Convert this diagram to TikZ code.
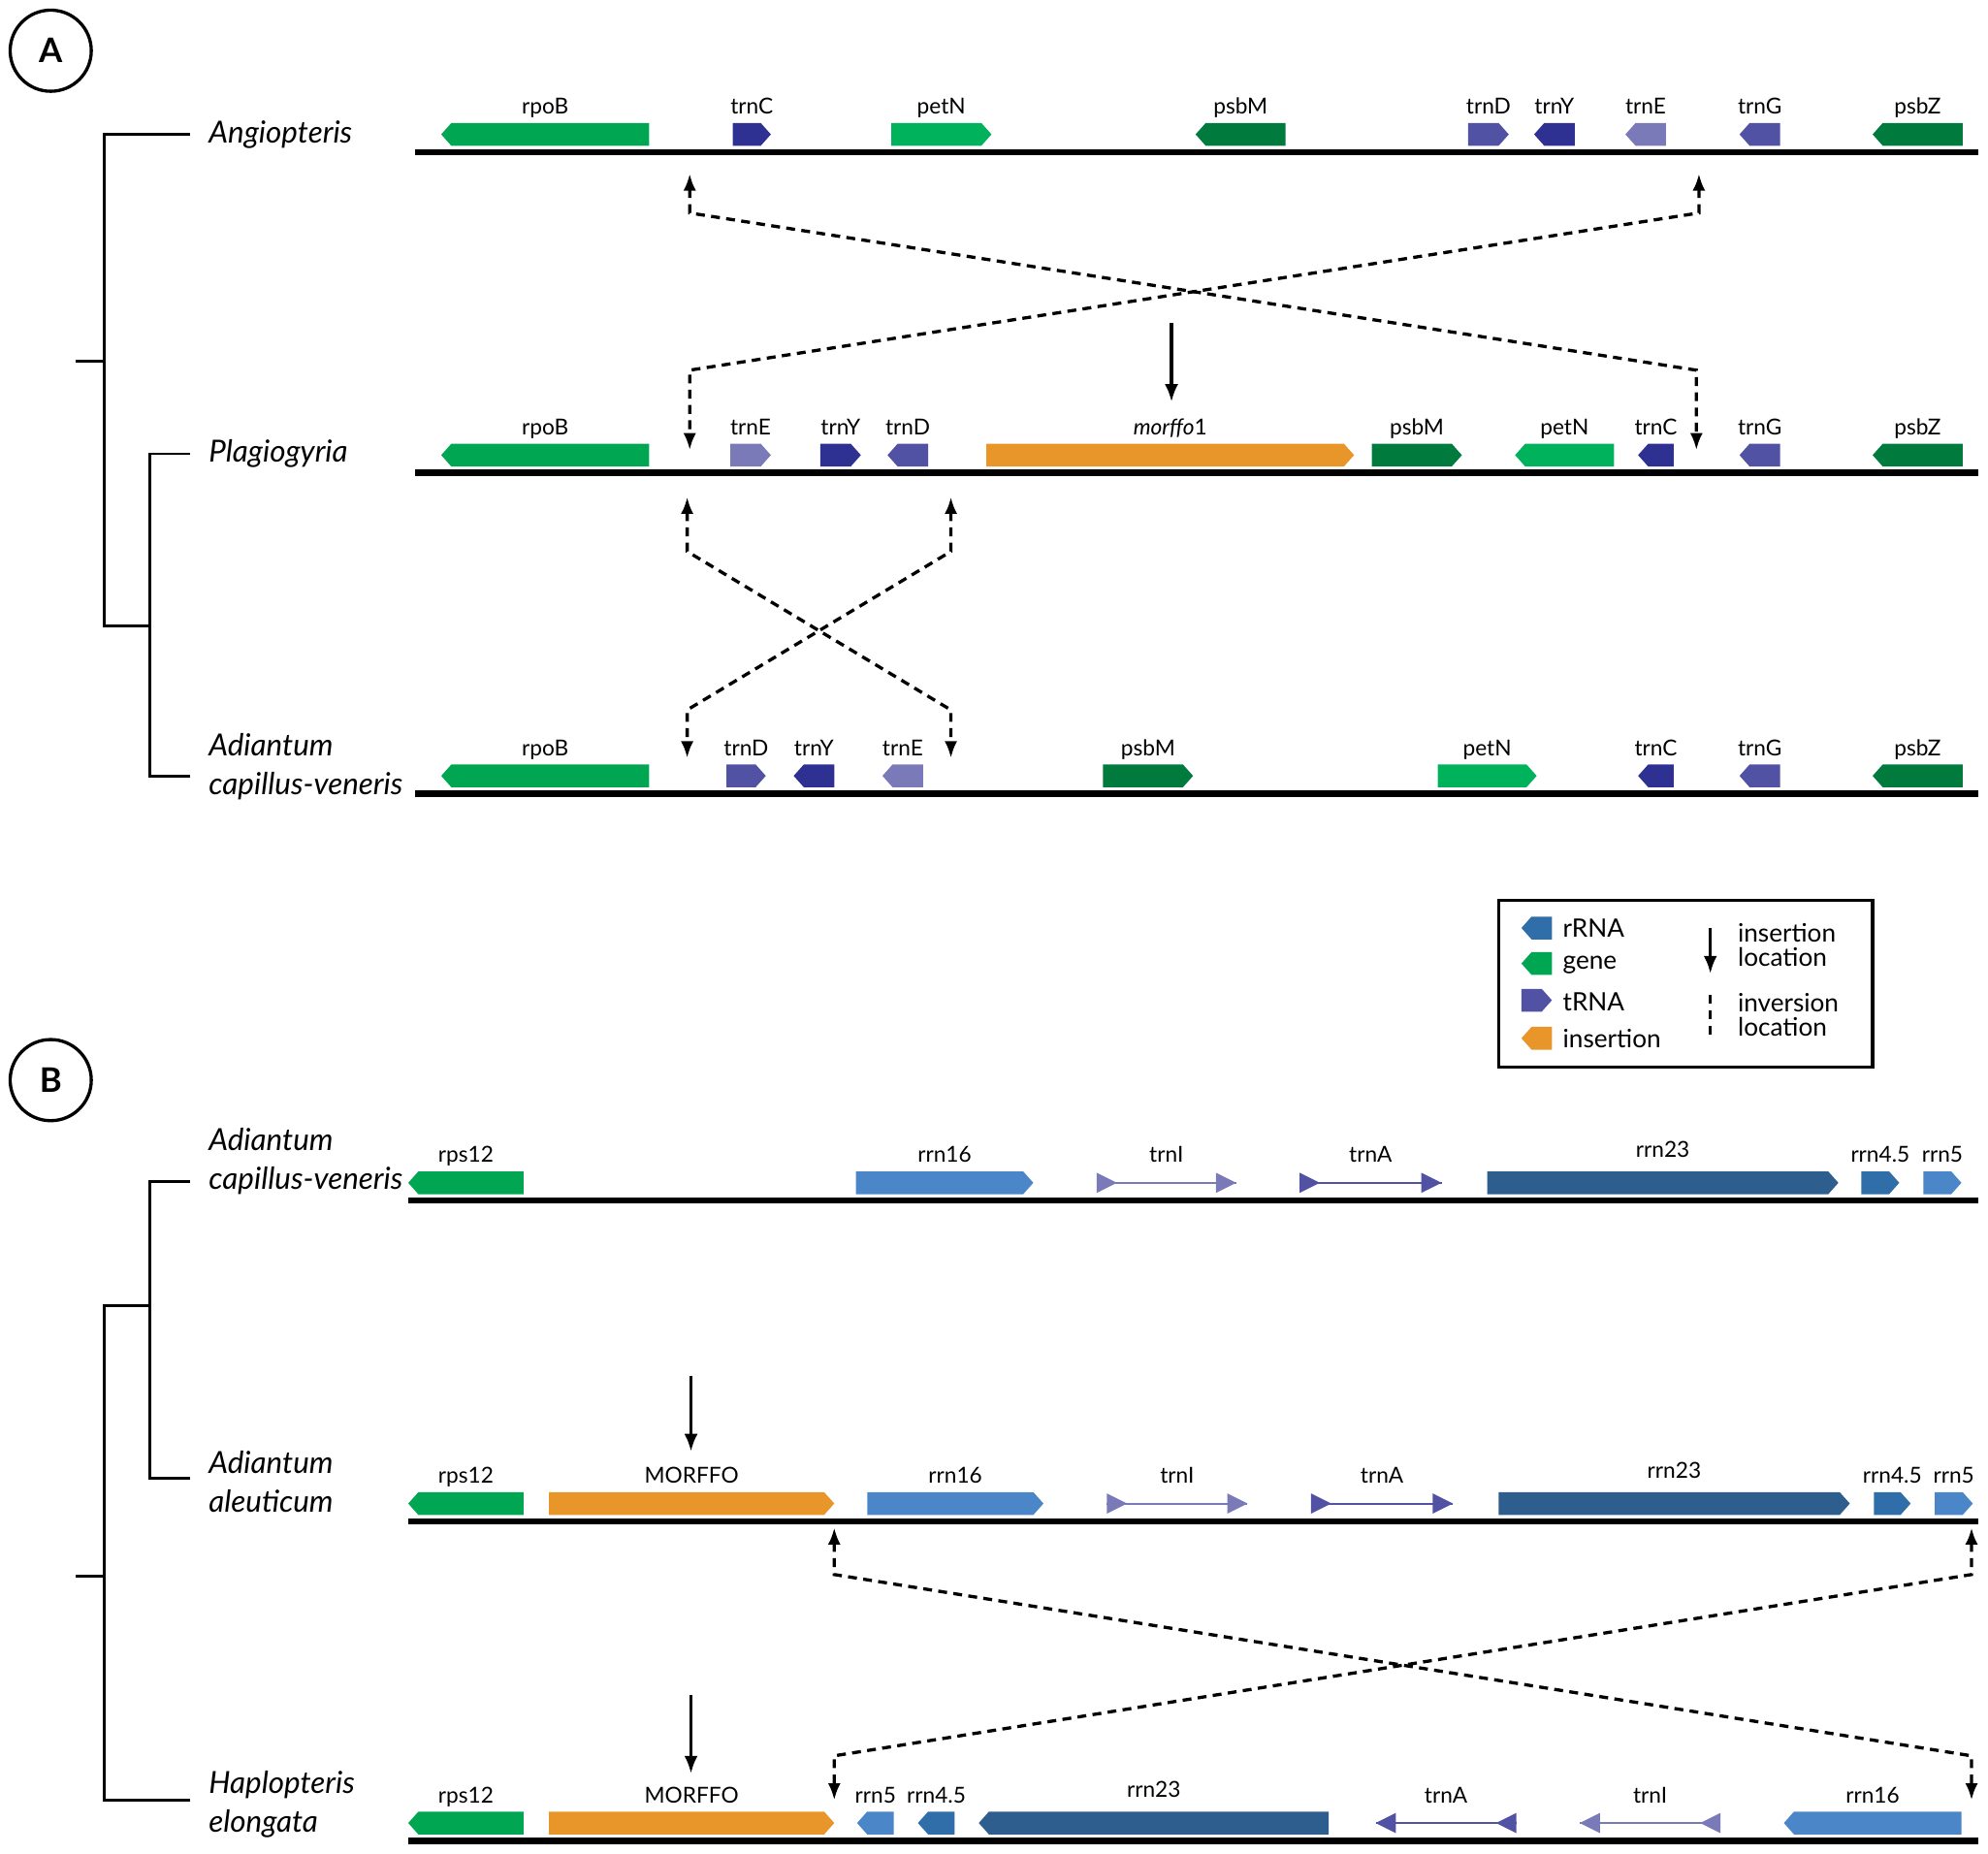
\documentclass[tikz,border=0pt]{standalone}
\usepackage{fontspec}
\setmainfont{Lato}
\usetikzlibrary{arrows.meta}
\newlength{\du}
\setlength{\du}{0.75pt}

\definecolor{cgene}{RGB}{0,166,81}
\definecolor{cgeneL}{RGB}{0,178,92}
\definecolor{cgeneD}{RGB}{0,122,61}
\definecolor{ctrna}{RGB}{82,82,164}
\definecolor{ctrnaD}{RGB}{46,49,146}
\definecolor{ctrnaL}{RGB}{122,122,184}
\definecolor{cins}{RGB}{232,150,42}
\definecolor{crrna}{RGB}{74,134,200}
\definecolor{crrnaD}{RGB}{46,94,142}
\definecolor{crrnaM}{RGB}{48,110,170}

\tikzset{
  chrom/.style={line width=3.75pt},
  lbl/.style={font=\fontsize{13}{13}\selectfont,anchor=base},
  species/.style={font=\fontsize{18}{23}\selectfont\itshape,anchor=west,align=left},
  tree/.style={line width=1.65pt},
  inv/.style={line width=1.9pt,dash pattern=on 5.25pt off 3.75pt,{Latex[length=10pt,width=7.5pt]}-{Latex[length=10pt,width=7.5pt]}},
  ins/.style={line width=1.9pt,-{Latex[length=10.5pt,width=8pt]}},
  legtxt/.style={font=\fontsize{15}{14}\selectfont,anchor=west},
}

% gene box: x1, x2, line y, colour, direction (r/l), label
\newcommand{\genebox}[6]{%
  \ifx r#5
    \fill[#4] (#1,{#3-23})--({#2-8},{#3-23})--(#2,{#3-14})--({#2-8},{#3-5})--(#1,{#3-5})--cycle;
  \else
    \fill[#4] (#2,{#3-23})--({#1+8},{#3-23})--(#1,{#3-14})--({#1+8},{#3-5})--(#2,{#3-5})--cycle;
  \fi
  \node[lbl] at ({(#1+#2)/2},{#3-30}) {#6};}
% thin tRNA arrow: x1, x2, line y, colour, direction, label
\newcommand{\trnarrow}[6]{%
  \ifx r#5
    \draw[#4,line width=1.1pt] (#1,{#3-14})--(#2,{#3-14});
    \fill[#4] (#1,{#3-22})--({#1+16},{#3-14})--(#1,{#3-6})--cycle;
    \fill[#4] ({#2-16},{#3-22})--(#2,{#3-14})--({#2-16},{#3-6})--cycle;
  \else
    \draw[#4,line width=1.1pt] (#1,{#3-14})--(#2,{#3-14});
    \fill[#4] ({#1+16},{#3-22})--(#1,{#3-14})--({#1+16},{#3-6})--cycle;
    \fill[#4] (#2,{#3-22})--({#2-16},{#3-14})--(#2,{#3-6})--cycle;
  \fi
  \node[lbl] at ({(#1+#2)/2},{#3-30}) {#6};}

\begin{document}
\begin{tikzpicture}[x=\du,y=-\du]
\useasboundingbox (0,0) rectangle (1568,1462);

% panel labels
\node[draw,circle,line width=1.9pt,minimum size=48pt,font=\fontsize{20}{20}\selectfont\bfseries] (pa) at (40,40) {A};
\node[draw,circle,line width=1.9pt,minimum size=48pt,font=\fontsize{20}{20}\selectfont\bfseries] (pb) at (40,852) {B};

% ---- panel A tree
\draw[tree] (60,285)--(82,285);
\draw[tree] (150,106)--(82,106)--(82,494)--(118,494);
\draw[tree] (150,358)--(118,358)--(118,612)--(150,612);
\node[species] (angio) at (160,106) {Angiopteris};
\node[species] (plagio) at (160,358) {Plagiogyria};
\node[species] (adiA) at (160,605) {Adiantum\\capillus-veneris};

% Angiopteris
\draw[chrom] (327,120)--(1560,120);
\genebox{348}{512}{120}{cgene}{l}{rpoB}
\genebox{578}{608}{120}{ctrnaD}{r}{trnC}
\genebox{703}{782}{120}{cgeneL}{r}{petN}
\genebox{943}{1014}{120}{cgeneD}{l}{psbM}
\genebox{1158}{1190}{120}{ctrna}{r}{trnD}
\genebox{1210}{1242}{120}{ctrnaD}{l}{trnY}
\genebox{1282}{1314}{120}{ctrnaL}{l}{trnE}
\genebox{1372}{1404}{120}{ctrna}{l}{trnG}
\genebox{1477}{1548}{120}{cgeneD}{l}{psbZ}

% Plagiogyria
\draw[chrom] (327,373)--(1560,373);
\genebox{348}{512}{373}{cgene}{l}{rpoB}
\genebox{576}{608}{373}{ctrnaL}{r}{trnE}
\genebox{647}{679}{373}{ctrnaD}{r}{trnY}
\genebox{700}{732}{373}{ctrna}{l}{trnD}
\genebox{778}{1068}{373}{cins}{r}{\textit{morffo}1}
\genebox{1082}{1153}{373}{cgeneD}{r}{psbM}
\genebox{1195}{1273}{373}{cgeneL}{l}{petN}
\genebox{1292}{1320}{373}{ctrnaD}{l}{trnC}
\genebox{1372}{1404}{373}{ctrna}{l}{trnG}
\genebox{1477}{1548}{373}{cgeneD}{l}{psbZ}

% Adiantum capillus-veneris
\draw[chrom] (327,626)--(1560,626);
\genebox{348}{512}{626}{cgene}{l}{rpoB}
\genebox{573}{604}{626}{ctrna}{r}{trnD}
\genebox{626}{658}{626}{ctrnaD}{l}{trnY}
\genebox{696}{728}{626}{ctrnaL}{l}{trnE}
\genebox{870}{941}{626}{cgeneD}{r}{psbM}
\genebox{1134}{1212}{626}{cgeneL}{r}{petN}
\genebox{1292}{1320}{626}{ctrnaD}{l}{trnC}
\genebox{1372}{1404}{626}{ctrna}{l}{trnG}
\genebox{1477}{1548}{626}{cgeneD}{l}{psbZ}

% inversions A
\coordinate (a1t) at (544,137); \coordinate (a1b) at (544,168);
\coordinate (a2t) at (1340,137); \coordinate (a2b) at (1340,168);
\coordinate (p1t) at (544,292); \coordinate (p1b) at (544,355);
\coordinate (p2t) at (1338,292); \coordinate (p2b) at (1338,355);
\draw[inv] (a1t)--(a1b)--(p2t)--(p2b);
\draw[inv] (a2t)--(a2b)--(p1t)--(p1b);
\coordinate (q1t) at (542,392); \coordinate (q1b) at (542,435);
\coordinate (q2t) at (750,392); \coordinate (q2b) at (750,435);
\coordinate (r1t) at (542,560); \coordinate (r1b) at (542,598);
\coordinate (r2t) at (750,560); \coordinate (r2b) at (750,598);
\draw[inv] (q1t)--(q1b)--(r2t)--(r2b);
\draw[inv] (q2t)--(q2b)--(r1t)--(r1b);
\coordinate (insA1) at (924,255); \coordinate (insA2) at (924,317);
\draw[ins] (insA1)--(insA2);

% legend
\draw[line width=1.9pt] (1182,710) rectangle (1477,842);
\genebox{1200}{1224}{746}{crrnaM}{l}{}
\genebox{1200}{1224}{774}{cgene}{l}{}
\genebox{1200}{1224}{803}{ctrna}{r}{}
\genebox{1200}{1224}{833}{cins}{l}{}
\node[legtxt] (lr) at (1228,732) {rRNA};
\node[legtxt] (lg) at (1228,761) {gene};
\node[legtxt] (lt) at (1228,790) {tRNA};
\node[legtxt] (li) at (1228,819) {insertion};
\coordinate (lins1) at (1349,732); \coordinate (lins2) at (1349,768);
\draw[ins] (lins1)--(lins2);
\coordinate (linv1) at (1349,785); \coordinate (linv2) at (1349,818);
\draw[line width=1.9pt,dash pattern=on 5.25pt off 3.75pt] (linv1)--(linv2);
\node[legtxt] (lil1) at (1366,736) {insertion};
\node[legtxt] (lil2) at (1366,755) {location};
\node[legtxt] (lvl1) at (1366,791) {inversion};
\node[legtxt] (lvl2) at (1366,810) {location};

% ---- panel B tree
\draw[tree] (150,932)--(118,932)--(118,1166)--(150,1166);
\draw[tree] (118,1030)--(82,1030)--(82,1420)--(150,1420);
\draw[tree] (60,1243)--(82,1243);
\node[species] (adiB) at (160,916) {Adiantum\\capillus-veneris};
\node[species] (aleu) at (160,1169) {Adiantum\\aleuticum};
\node[species] (haplo) at (160,1423) {Haplopteris\\elongata};

% Adiantum capillus-veneris
\draw[chrom] (322,947)--(1560,947);
\genebox{322}{413}{947}{cgene}{l}{rps12}
\genebox{675}{815}{947}{crrna}{r}{rrn16}
\trnarrow{865}{975}{947}{ctrnaL}{r}{trnI}
\trnarrow{1025}{1137}{947}{ctrna}{r}{trnA}
\genebox{1173}{1450}{947}{crrnaD}{r}{\raisebox{3pt}{rrn23}}
\genebox{1468}{1498}{947}{crrnaM}{r}{rrn4.5}
\genebox{1517}{1547}{947}{crrna}{r}{rrn5}

% Adiantum aleuticum
\draw[chrom] (322,1200)--(1560,1200);
\genebox{322}{413}{1200}{cgene}{l}{rps12}
\genebox{433}{658}{1200}{cins}{r}{MORFFO}
\genebox{684}{823}{1200}{crrna}{r}{rrn16}
\trnarrow{873}{984}{1200}{ctrnaL}{r}{trnI}
\trnarrow{1034}{1146}{1200}{ctrna}{r}{trnA}
\genebox{1182}{1459}{1200}{crrnaD}{r}{\raisebox{3pt}{rrn23}}
\genebox{1478}{1507}{1200}{crrnaM}{r}{rrn4.5}
\genebox{1526}{1556}{1200}{crrna}{r}{rrn5}
\coordinate (insB1) at (545,1085); \coordinate (insB2) at (545,1145);
\draw[ins] (insB1)--(insB2);

% Haplopteris elongata
\draw[chrom] (322,1452)--(1560,1452);
\genebox{322}{413}{1452}{cgene}{l}{rps12}
\genebox{433}{658}{1452}{cins}{r}{MORFFO}
\genebox{676}{705}{1452}{crrna}{l}{rrn5}
\genebox{724}{753}{1452}{crrnaM}{l}{rrn4.5}
\genebox{772}{1048}{1452}{crrnaD}{l}{\raisebox{3pt}{rrn23}}
\trnarrow{1085}{1196}{1452}{ctrna}{l}{trnA}
\trnarrow{1246}{1357}{1452}{ctrnaL}{l}{trnI}
\genebox{1407}{1547}{1452}{crrna}{l}{rrn16}
\coordinate (insC1) at (545,1337); \coordinate (insC2) at (545,1399);
\draw[ins] (insC1)--(insC2);

% inversions B
\coordinate (b1t) at (658,1205); \coordinate (b1b) at (658,1242);
\coordinate (b2t) at (1555,1205); \coordinate (b2b) at (1555,1242);
\coordinate (c1t) at (658,1385); \coordinate (c1b) at (658,1420);
\coordinate (c2t) at (1555,1385); \coordinate (c2b) at (1555,1420);
\draw[inv] (b1t)--(b1b)--(c2t)--(c2b);
\draw[inv] (b2t)--(b2b)--(c1t)--(c1b);
\end{tikzpicture}
\end{document}
